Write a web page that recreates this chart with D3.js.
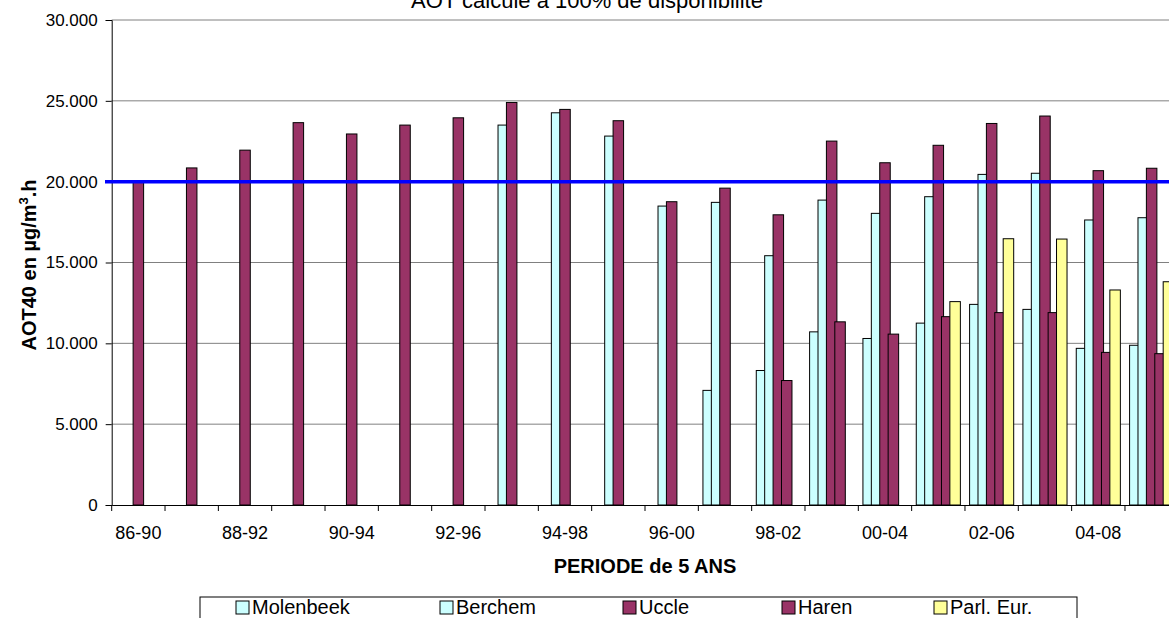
<!DOCTYPE html>
<html>
<head>
<meta charset="utf-8">
<script src="https://cdn.jsdelivr.net/npm/d3@7"></script>
<style>
  html, body { margin: 0; padding: 0; background: #fff; }
  svg { display: block; }
  text { font-family: "Liberation Sans", Arial, sans-serif; }
</style>
</head>
<body>
<svg id="chart" width="1169" height="618"></svg>
<script>
// ---- DATA ----
const categories = ["86-90","87-91","88-92","89-93","90-94","91-95","92-96","93-97","94-98","95-99",
                    "96-00","97-01","98-02","99-03","00-04","01-05","02-06","03-07","04-08","05-09"];
const seriesNames = ["Molenbeek", "Berchem", "Uccle", "Haren", "Parl. Eur."];
const molenbeek = [null,null,null,null,null,null,null,null,null,null,
                   null,7090,8320,10710,10300,11250,12410,12100,9690,9880];
const berchem   = [null,null,null,null,null,null,null,23500,24260,22820,
                   18490,18720,15420,18860,18040,19070,20450,20520,17630,17770];
const uccle     = [20000,20850,21950,23650,22950,23500,23950,24900,24470,23770,
                   18760,19600,17950,22510,21170,22250,23600,24060,20680,20830];
const haren     = [null,null,null,null,null,null,null,null,null,null,
                   null,null,7700,11330,10570,11650,11900,11900,9440,9360];
const parlEur   = [null,null,null,null,null,null,null,null,null,null,
                   null,null,null,null,null,12580,16470,16450,13300,13810];
const yTicks = [0, 5000, 10000, 15000, 20000, 25000, 30000];
const threshold = 20000;
const title = "AOT calculé à 100% de disponibilité";
const xTitle = "PERIODE de 5 ANS";

const seriesValues = [molenbeek, berchem, uccle, haren, parlEur];
const colors = ["#CCFFFF", "#CCFFFF", "#993366", "#993366", "#FFFF99"];

// ---- LAYOUT ----
const svg = d3.select("#chart");
const plotLeft = 111.7, catW = 53.33, plotTop = 20, plotBottom = 505;
const x = d3.scaleBand().domain(categories).range([plotLeft, plotLeft + catW * categories.length]).padding(0);
const y = d3.scaleLinear().domain([0, 30000]).range([plotBottom, plotTop]);
const barW = 10.5, pitch = 8.4;

const fmt = d3.formatLocale({decimal: ",", thousands: ".", grouping: [3], currency: ["", ""]}).format(",");

// gridlines
svg.append("g").selectAll("line").data(yTicks.filter(d => d > 0)).join("line")
  .attr("x1", plotLeft).attr("x2", 1169)
  .attr("y1", d => y(d)).attr("y2", d => y(d))
  .attr("stroke", "#808080").attr("stroke-width", 1);

// bars
seriesValues.forEach((vals, si) => {
  svg.append("g").selectAll("rect")
    .data(categories.map((c, i) => ({c, v: vals[i]})).filter(d => d.v != null))
    .join("rect")
    .attr("x", d => x(d.c) + x.bandwidth() / 2 + (si - 2) * pitch - barW / 2)
    .attr("y", d => y(d.v))
    .attr("width", barW)
    .attr("height", d => y(0) - y(d.v))
    .attr("fill", colors[si])
    .attr("stroke", "#000")
    .attr("stroke-width", 1);
});

// y axis
const yAxis = d3.axisLeft(y).tickValues(yTicks).tickFormat(fmt).tickSize(6).tickPadding(8);
const yg = svg.append("g").attr("transform", `translate(${plotLeft},0)`).call(yAxis);
yg.select(".domain").attr("stroke", "#000");
yg.selectAll(".tick line").attr("stroke", "#000");
yg.selectAll("text").attr("font-size", 17).attr("fill", "#000")
  .style("font-family", '"Liberation Sans", Arial, sans-serif');

// x axis (labels every other category)
const xAxis = d3.axisBottom(x).tickSize(0).tickPadding(21.5)
  .tickFormat((d, i) => i % 2 === 0 ? d : "");
const xg = svg.append("g").attr("transform", `translate(0,${plotBottom})`).call(xAxis);
xg.select(".domain").attr("stroke", "#000");
xg.selectAll("text").attr("font-size", 18).attr("fill", "#000")
  .style("font-family", '"Liberation Sans", Arial, sans-serif');
// category boundary ticks
svg.append("g").selectAll("line").data(categories).join("line")
  .attr("x1", d => x(d)).attr("x2", d => x(d))
  .attr("y1", plotBottom).attr("y2", plotBottom + 6)
  .attr("stroke", "#000");

// threshold line
svg.append("line")
  .attr("x1", 105).attr("x2", 1169)
  .attr("y1", y(threshold)).attr("y2", y(threshold))
  .attr("stroke", "#0000FF").attr("stroke-width", 3.5);

// title
svg.append("text").attr("x", 587).attr("y", 8).attr("text-anchor", "middle")
  .attr("font-size", 22).text(title);

// axis titles
svg.append("text").attr("x", 645).attr("y", 573).attr("text-anchor", "middle")
  .attr("font-size", 20).attr("font-weight", "bold").text(xTitle);

const yt = svg.append("text")
  .attr("transform", "translate(36,265) rotate(-90)")
  .attr("text-anchor", "middle").attr("font-size", 20).attr("font-weight", "bold");
yt.append("tspan").text("AOT40 en µg/m");
yt.append("tspan").attr("dy", -8).attr("font-size", 13).text("3");
yt.append("tspan").attr("dy", 8).text(".h");

// legend
const lg = svg.append("g");
lg.append("rect").attr("x", 200).attr("y", 597).attr("width", 877).attr("height", 40)
  .attr("fill", "#fff").attr("stroke", "#000");
const legendX = [236, 440, 623, 782, 934];
seriesNames.forEach((n, i) => {
  lg.append("rect").attr("x", legendX[i]).attr("y", 601).attr("width", 13).attr("height", 13)
    .attr("fill", colors[i]).attr("stroke", "#000");
  lg.append("text").attr("x", legendX[i] + 16).attr("y", 614).attr("font-size", 20).text(n);
});
</script>
</body>
</html>
